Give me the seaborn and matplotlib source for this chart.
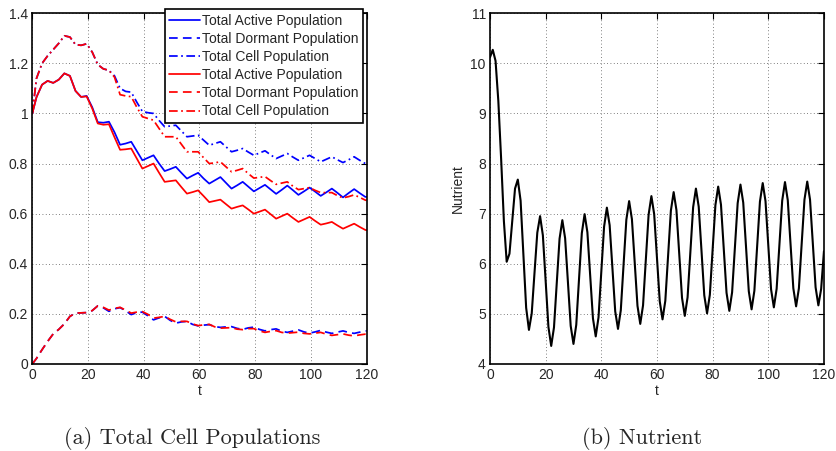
import numpy as np
import pandas as pd
import seaborn as sns
import matplotlib
matplotlib.use("Agg")
import matplotlib.pyplot as plt

# time samples for the population curves (peaks/troughs of the ripple)
t_pop = [0, 1.5, 3.5, 5.5, 7.5, 9.5, 11.5, 13.5,
         15.5, 17.5, 19.5, 21.5, 23.5, 25.5, 27.5, 29.5,
         31.5, 33.5, 35.5, 37.5, 39.5, 41.5, 43.5, 45.5,
         47.5, 49.5, 51.5, 53.5, 55.5, 57.5, 59.5, 61.5,
         63.5, 65.5, 67.5, 69.5, 71.5, 73.5, 75.5, 77.5,
         79.5, 81.5, 83.5, 85.5, 87.5, 89.5, 91.5, 93.5,
         95.5, 97.5, 99.5, 101.5, 103.5, 105.5, 107.5, 109.5,
         111.5, 113.5, 115.5, 117.5, 119.5, 120]

# model 1 (blue)
active_blue = [1.0, 1.065, 1.115, 1.13, 1.122, 1.135, 1.16, 1.15,
               1.09, 1.066, 1.07, 1.025, 0.965, 0.963, 0.967, 0.925,
               0.875, 0.88, 0.887, 0.85, 0.813, 0.823, 0.833, 0.80,
               0.77, 0.778, 0.787, 0.763, 0.74, 0.752, 0.763, 0.74,
               0.72, 0.733, 0.746, 0.723, 0.70, 0.713, 0.727, 0.708,
               0.689, 0.702, 0.715, 0.697, 0.679, 0.695, 0.712, 0.694,
               0.675, 0.689, 0.704, 0.688, 0.671, 0.685, 0.70, 0.683,
               0.665, 0.682, 0.698, 0.682, 0.667, 0.667]
dormant_blue = [0.0, 0.022, 0.057, 0.09, 0.12, 0.138, 0.16, 0.19,
                0.203, 0.204, 0.205, 0.213, 0.232, 0.224, 0.21, 0.22,
                0.225, 0.212, 0.197, 0.205, 0.207, 0.192, 0.176, 0.184,
                0.19, 0.174, 0.163, 0.168, 0.17, 0.158, 0.152, 0.155,
                0.157, 0.149, 0.146, 0.148, 0.149, 0.142, 0.138, 0.144,
                0.147, 0.138, 0.132, 0.137, 0.14, 0.131, 0.126, 0.131,
                0.136, 0.128, 0.123, 0.128, 0.134, 0.127, 0.122, 0.127,
                0.132, 0.126, 0.122, 0.127, 0.132, 0.132]
cell_blue = [1.0, 1.14, 1.2, 1.23, 1.255, 1.28, 1.31, 1.305,
             1.275, 1.272, 1.278, 1.245, 1.195, 1.178, 1.172, 1.15,
             1.10, 1.088, 1.085, 1.045, 1.008, 1.003, 1.0, 0.972,
             0.947, 0.95, 0.953, 0.93, 0.907, 0.91, 0.913, 0.893,
             0.873, 0.88, 0.887, 0.867, 0.847, 0.853, 0.86, 0.846,
             0.833, 0.842, 0.851, 0.835, 0.82, 0.83, 0.84, 0.826,
             0.813, 0.823, 0.833, 0.82, 0.807, 0.817, 0.827, 0.815,
             0.804, 0.815, 0.827, 0.813, 0.80, 0.80]

# model 2 (red)
active_red = [1.0, 1.065, 1.115, 1.13, 1.122, 1.135, 1.16, 1.15,
              1.09, 1.066, 1.068, 1.02, 0.96, 0.955, 0.957, 0.905,
              0.855, 0.857, 0.86, 0.82, 0.78, 0.79, 0.80, 0.763,
              0.727, 0.73, 0.733, 0.706, 0.68, 0.686, 0.693, 0.67,
              0.646, 0.651, 0.656, 0.638, 0.62, 0.627, 0.633, 0.617,
              0.60, 0.608, 0.616, 0.598, 0.58, 0.59, 0.60, 0.583,
              0.567, 0.577, 0.587, 0.571, 0.556, 0.561, 0.567, 0.553,
              0.54, 0.55, 0.56, 0.547, 0.535, 0.534]
dormant_red = [0.0, 0.022, 0.057, 0.09, 0.12, 0.138, 0.16, 0.19,
               0.203, 0.204, 0.205, 0.213, 0.232, 0.226, 0.215, 0.222,
               0.226, 0.215, 0.203, 0.207, 0.209, 0.198, 0.183, 0.186,
               0.19, 0.178, 0.168, 0.17, 0.17, 0.16, 0.153, 0.156,
               0.158, 0.148, 0.143, 0.144, 0.145, 0.139, 0.137, 0.141,
               0.141, 0.132, 0.126, 0.13, 0.133, 0.126, 0.123, 0.125,
               0.127, 0.122, 0.12, 0.123, 0.126, 0.119, 0.114, 0.117,
               0.12, 0.115, 0.112, 0.116, 0.119, 0.119]
cell_red = [1.0, 1.14, 1.2, 1.23, 1.255, 1.28, 1.31, 1.305,
            1.275, 1.272, 1.278, 1.245, 1.195, 1.178, 1.172, 1.145,
            1.075, 1.07, 1.067, 1.025, 0.987, 0.98, 0.973, 0.94,
            0.907, 0.907, 0.907, 0.877, 0.847, 0.847, 0.847, 0.823,
            0.80, 0.803, 0.807, 0.787, 0.767, 0.773, 0.78, 0.76,
            0.742, 0.745, 0.748, 0.732, 0.717, 0.722, 0.727, 0.71,
            0.696, 0.70, 0.704, 0.693, 0.684, 0.684, 0.684, 0.672,
            0.663, 0.668, 0.675, 0.665, 0.654, 0.653]

# nutrient, one sample per time unit (t = 0..120)
t_nut = list(range(121))
nutrient = [10.12, 10.27, 10.05, 9.25, 8.1, 6.85, 6.04, 6.2, 6.85, 7.5,
            7.68, 7.26, 6.19, 5.12, 4.68, 5.01, 5.82, 6.62, 6.95, 6.57,
            5.66, 4.74, 4.36, 4.73, 5.62, 6.50, 6.87, 6.51, 5.64, 4.76,
            4.40, 4.78, 5.70, 6.61, 6.99, 6.63, 5.77, 4.91, 4.55, 4.93,
            5.84, 6.74, 7.12, 6.77, 5.91, 5.05, 4.70, 5.07, 5.98, 6.88,
            7.25, 6.89, 6.03, 5.16, 4.80, 5.17, 6.08, 6.98, 7.35, 6.99,
            6.12, 5.25, 4.89, 5.26, 6.16, 7.06, 7.43, 7.07, 6.20, 5.32,
            4.96, 5.33, 6.23, 7.13, 7.50, 7.14, 6.26, 5.37, 5.01, 5.38,
            6.28, 7.17, 7.54, 7.18, 6.30, 5.42, 5.06, 5.43, 6.32, 7.21,
            7.58, 7.22, 6.34, 5.45, 5.09, 5.46, 6.35, 7.24, 7.61, 7.25,
            6.37, 5.49, 5.13, 5.50, 6.38, 7.26, 7.63, 7.27, 6.39, 5.51,
            5.15, 5.51, 6.40, 7.28, 7.64, 7.28, 6.41, 5.53, 5.17, 5.5,
            6.25]

sns.set_style("white")
plt.rcParams['font.family'] = ['Liberation Sans', 'DejaVu Sans']
plt.rcParams['font.size'] = 10

fig = plt.figure(figsize=(8.37, 4.51), dpi=100)
ax1 = fig.add_axes([0.0386, 0.193, 0.3995, 0.7776])
ax2 = fig.add_axes([0.5854, 0.193, 0.399, 0.7776])

series = [
    (active_blue, 'blue', '-', 'Total Active Population'),
    (dormant_blue, 'blue', (0, (5, 3)), 'Total Dormant Population'),
    (cell_blue, 'blue', (0, (5, 2, 1, 2)), 'Total Cell Population'),
    (active_red, 'red', '-', 'Total Active Population'),
    (dormant_red, 'red', (0, (5, 3)), 'Total Dormant Population'),
    (cell_red, 'red', (0, (5, 2, 1, 2)), 'Total Cell Population'),
]
for vals, col, ls, lab in series:
    sns.lineplot(x=t_pop, y=vals, ax=ax1, color=col, linestyle=ls,
                 linewidth=1.25, label=lab, solid_joinstyle='round',
                 dash_joinstyle='round')

sns.lineplot(x=t_nut, y=nutrient, ax=ax2, color='black', linewidth=1.5,
             solid_joinstyle='round')

for ax, ylim, yt in [(ax1, (0, 1.4), [0, 0.2, 0.4, 0.6, 0.8, 1, 1.2, 1.4]),
                     (ax2, (4, 11), [4, 5, 6, 7, 8, 9, 10, 11])]:
    ax.set_xlim(0, 120)
    ax.set_ylim(*ylim)
    ax.set_xticks([0, 20, 40, 60, 80, 100, 120])
    ax.set_yticks(yt)
    ax.set_yticklabels([f"{v:g}" for v in yt])
    ax.grid(True, linestyle=(0, (1, 3)), color='#555555', linewidth=0.6)
    ax.tick_params(direction='in', length=4, width=0.8, top=True, right=True,
                   labelsize=10, pad=3, color='black')
    for sp in ax.spines.values():
        sp.set_color('black')
        sp.set_linewidth(1.2)
    ax.set_xlabel('t', labelpad=1)
    ax.set_ylabel('')

ax2.set_ylabel('Nutrient', labelpad=4)

leg = ax1.legend(loc='upper left', bbox_to_anchor=(165 / 837, 1 - 9.5 / 451),
                 bbox_transform=fig.transFigure, frameon=True, fancybox=False,
                 framealpha=1, edgecolor='black', fontsize=10,
                 handlelength=2.2, handletextpad=0.2, labelspacing=0.3,
                 borderpad=0.3, borderaxespad=0)
leg.get_frame().set_linewidth(1.2)

fig.text(192 / 837, 1 - 438 / 451, '(a) Total Cell Populations',
         family='cmr10', fontsize=16, ha='center', va='center')
fig.text(642 / 837, 1 - 438 / 451, '(b) Nutrient',
         family='cmr10', fontsize=16, ha='center', va='center')

fig.savefig('out.png', dpi=100)
